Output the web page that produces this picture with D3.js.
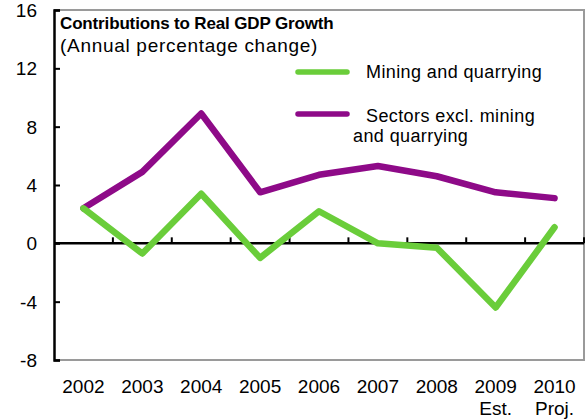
<!DOCTYPE html>
<html>
<head>
<meta charset="utf-8">
<script src="https://cdn.jsdelivr.net/npm/d3@7"></script>
<style>
  html, body { margin: 0; padding: 0; background: #fff; }
  svg { display: block; font-family: "Liberation Sans", Arial, sans-serif; }
</style>
</head>
<body>
<svg id="chart" width="588" height="420"></svg>
<script>
// Contributions to real GDP growth, annual percentage change
const years = ["2002", "2003", "2004", "2005", "2006", "2007", "2008", "2009", "2010"];
const yearNotes = ["", "", "", "", "", "", "", "Est.", "Proj."];
const mining = [2.4, -0.7, 3.4, -1.0, 2.2, 0.0, -0.3, -4.4, 1.1];
const otherSectors = [2.4, 4.9, 8.9, 3.5, 4.7, 5.3, 4.6, 3.5, 3.1];
const yTicks = [-8, -4, 0, 4, 8, 12, 16];
const seriesNames = ["Mining and quarrying", "Sectors excl. mining", "and quarrying"];

const colors = { mining: "#6acd3a", other: "#8e0a88" };

const svg = d3.select("#chart");
const plot = { left: 54, right: 584, top: 10, bottom: 360 };

const x = d3.scaleBand().domain(years).range([plot.left, plot.right]).padding(0);
const y = d3.scaleLinear().domain([-8, 16]).range([plot.bottom, plot.top]);
const cx = d => x(d) + x.bandwidth() / 2;

// plot frame (top, right, bottom in grey)
svg.append("path")
  .attr("d", `M${plot.left},${plot.top}H${plot.right}V${plot.bottom}H${plot.left}`)
  .attr("fill", "none")
  .attr("stroke", "#9a9a9a")
  .attr("stroke-width", 2);

// y axis: ticks pointing into the plot
const yAxis = svg.append("g")
  .attr("transform", `translate(${plot.left},0)`)
  .call(d3.axisRight(y).tickValues(yTicks).tickSize(6).tickFormat(""));
yAxis.select(".domain").attr("stroke", "#000").attr("stroke-width", 2.5);
yAxis.selectAll(".tick line").attr("stroke", "#000").attr("stroke-width", 2);

svg.append("g").selectAll("text")
  .data(yTicks)
  .join("text")
  .attr("x", 37)
  .attr("y", d => y(d))
  .attr("dy", "0.36em")
  .attr("text-anchor", "end")
  .attr("font-size", 19)
  .attr("fill", "#000")
  .text(d => d);

// x axis along zero, tick marks at category boundaries
const boundaries = years.map(d => x(d)).concat([plot.right]);
const xAxisG = svg.append("g");
xAxisG.append("line")
  .attr("x1", plot.left).attr("x2", plot.right)
  .attr("y1", y(0)).attr("y2", y(0))
  .attr("stroke", "#000").attr("stroke-width", 2.5);
xAxisG.selectAll("line.tk")
  .data(boundaries.slice(1))
  .join("line")
  .attr("class", "tk")
  .attr("x1", d => d).attr("x2", d => d)
  .attr("y1", y(0)).attr("y2", y(0) - 6)
  .attr("stroke", "#000").attr("stroke-width", 2);

// category labels
const xl = svg.append("g").attr("font-size", 19).attr("fill", "#000").attr("text-anchor", "middle");
xl.selectAll("text.yr")
  .data(years)
  .join("text")
  .attr("class", "yr")
  .attr("x", d => cx(d))
  .attr("y", 393)
  .text(d => d);
xl.selectAll("text.note")
  .data(years.map((d, i) => ({ year: d, note: yearNotes[i] })).filter(d => d.note))
  .join("text")
  .attr("class", "note")
  .attr("x", d => cx(d.year))
  .attr("y", 415)
  .text(d => d.note);

// series lines
const line = (vals) => d3.line()
  .x((d, i) => cx(years[i]))
  .y(d => y(d))(vals);

svg.append("path")
  .attr("d", line(otherSectors))
  .attr("fill", "none")
  .attr("stroke", colors.other)
  .attr("stroke-width", 6.5)
  .attr("stroke-linejoin", "round")
  .attr("stroke-linecap", "round");

svg.append("path")
  .attr("d", line(mining))
  .attr("fill", "none")
  .attr("stroke", colors.mining)
  .attr("stroke-width", 6.5)
  .attr("stroke-linejoin", "round")
  .attr("stroke-linecap", "round");

// title
svg.append("text")
  .attr("x", 60).attr("y", 29)
  .attr("font-size", 17).attr("font-weight", "bold")
  .attr("letter-spacing", -0.15)
  .text("Contributions to Real GDP Growth");
svg.append("text")
  .attr("x", 60).attr("y", 52)
  .attr("font-size", 19)
  .attr("letter-spacing", 0.7)
  .text("(Annual percentage change)");

// legend
const legend = svg.append("g").attr("font-size", 18).attr("letter-spacing", 0.4);
legend.append("line")
  .attr("x1", 298).attr("x2", 347).attr("y1", 72).attr("y2", 72)
  .attr("stroke", colors.mining).attr("stroke-width", 5.5).attr("stroke-linecap", "round");
legend.append("text").attr("x", 366).attr("y", 78).text(seriesNames[0]);
legend.append("line")
  .attr("x1", 298).attr("x2", 347).attr("y1", 114).attr("y2", 114)
  .attr("stroke", colors.other).attr("stroke-width", 5.5).attr("stroke-linecap", "round");
legend.append("text").attr("x", 366).attr("y", 122).text(seriesNames[1]);
legend.append("text").attr("x", 353).attr("y", 142).text(seriesNames[2]);
</script>
</body>
</html>
